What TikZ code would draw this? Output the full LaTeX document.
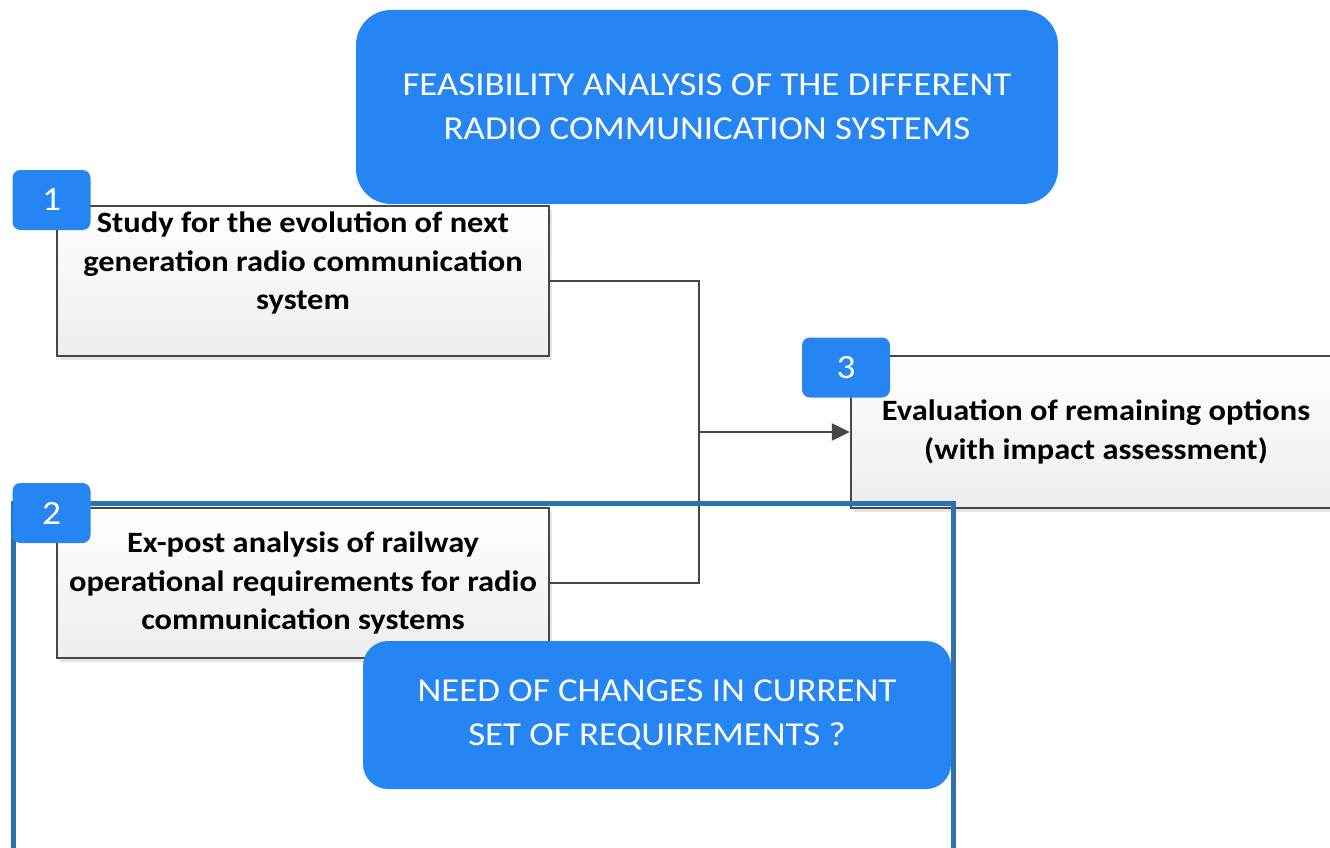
\documentclass[tikz,border=0pt]{standalone}
\usepackage{fontspec}
\setmainfont{Carlito}[FakeStretch=1.1]
\usetikzlibrary{shadows,arrows.meta,positioning}
\definecolor{capblue}{HTML}{2585F2}
\definecolor{frameblue}{HTML}{2E72AD}
\definecolor{linegray}{HTML}{474747}
\tikzset{
  stepbox/.style={draw=linegray, line width=2.4pt, top color=white, bottom color=gray!14,
    minimum width=492pt, minimum height=150pt, align=center,
    font=\fontsize{29.5}{38.5}\selectfont\bfseries,
    drop shadow={shadow xshift=3pt, shadow yshift=-4pt, opacity=0.25, fill=black!40}},
  badge/.style={fill=capblue, rounded corners=8pt, minimum width=78pt, minimum height=60pt,
    text=white, font=\fontsize{34}{40}\selectfont},
  banner/.style={fill=capblue, text=white, align=center, font=\fontsize{33.5}{44}\selectfont},
  flow/.style={draw=linegray, line width=2.2pt}
}
\begin{document}
\begin{tikzpicture}[x=1pt, y=-1pt]
  \clip (0,0) rectangle (1330,848);
  \coordinate (join) at (699,432);

  \node[stepbox] (study) at (303,281) {Study for the evolution of next\\generation radio communication\\system\\[-10pt] \strut};
  \node[stepbox] (expost) at (303,583) {Ex-post analysis of railway\\operational requirements for radio\\communication systems};
  \node[stepbox, minimum width=490pt, minimum height=152pt] (evalu) at (1096,432) {Evaluation of remaining options\\(with impact assessment)};

  \draw[flow] (study.east) -| (join) |- (expost.east);
  \draw[flow, -{Triangle[length=18pt, width=17pt]}] (join) -- (evalu.west);

  \draw[frameblue, line width=5pt] (13,870) |- (953,503) -- (953,870);

  \node[badge] (one) at (51.5,200) {1};
  \node[badge] (two) at (51.5,513) {2};
  \node[badge, minimum width=88pt] (three) at (846,367.5) {3};

  \node[banner, rounded corners=35pt, minimum width=702pt, minimum height=194pt] (feas) at (707,107)
    {FEASIBILITY ANALYSIS OF THE DIFFERENT\\RADIO COMMUNICATION SYSTEMS};
  \node[banner, rounded corners=25pt, minimum width=588pt, minimum height=148pt] (need) at (657,715)
    {NEED OF CHANGES IN CURRENT\\SET OF REQUIREMENTS ?};
\end{tikzpicture}
\end{document}
